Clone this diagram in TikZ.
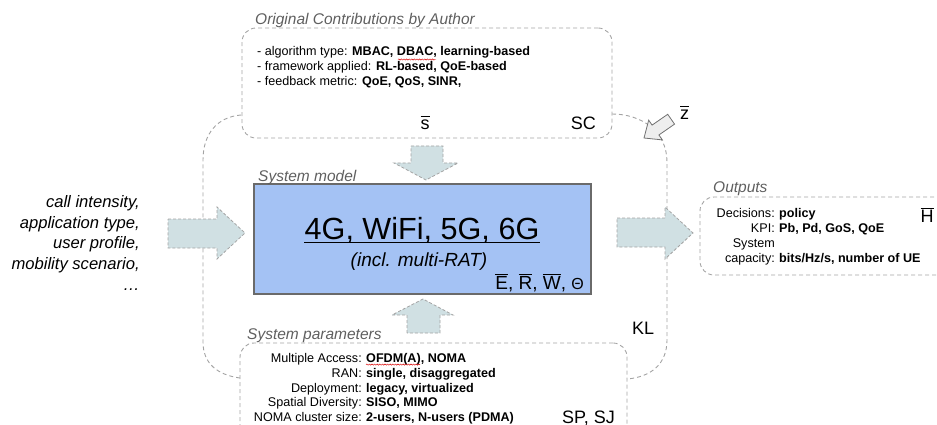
\documentclass[tikz,border=0pt]{standalone}
\usepackage{fontspec}
\setmainfont{Liberation Sans}
\usetikzlibrary{decorations.pathmorphing}

\definecolor{dashgray}{HTML}{A3A3A3}
\definecolor{titlegray}{HTML}{5F5F5F}
\definecolor{modelblue}{HTML}{A4C2F4}
\definecolor{modeledge}{HTML}{6A6A6A}
\definecolor{flowfill}{HTML}{D0E0E3}
\definecolor{zfill}{HTML}{EEEEEE}
\definecolor{zedge}{HTML}{707070}

% letter with a bar at capital height
\newcommand\barred[1]{\ensuremath{\overline{\mbox{#1\vphantom{H}}}}}

\tikzset{
  panel/.style={draw=dashgray, dash pattern=on 4pt off 3pt, line width=0.9pt,
    rounded corners=14pt, inner sep=0pt},
  modelbox/.style={draw=modeledge, fill=modelblue, line width=1.1pt, inner sep=0pt},
  loopline/.style={draw=dashgray, dash pattern=on 4pt off 3pt, line width=0.9pt},
  flow/.style={fill=flowfill, draw=dashgray, dash pattern=on 3pt off 2pt, line width=0.8pt},
  zarrow/.style={fill=zfill, draw=zedge, line width=0.8pt, line join=miter},
  paneltitle/.style={font=\fontsize{15.5}{15.5}\itshape, text=titlegray, inner sep=0pt, anchor=base west},
  txt/.style={font=\fontsize{12.6}{14}\selectfont, inner sep=0pt},
  boldtxt/.style={font=\fontsize{12.6}{14}\bfseries, inner sep=0pt},
  intxt/.style={font=\fontsize{16.6}{21}\itshape, inner sep=0pt, anchor=base east},
  tag/.style={font=\fontsize{18}{18}\selectfont, inner sep=0pt},
  squiggle/.style={draw=red!85!black, line width=0.45pt, decorate,
    decoration={snake, amplitude=0.6pt, segment length=2.6pt}}
}

\begin{document}
\begin{tikzpicture}[x=1pt,y=-1pt]
\useasboundingbox (0,0) rectangle (937,425);
\clip (0,0) rectangle (937,425);

% ---------- panels ----------
\node[panel, minimum width=370pt, minimum height=110pt] (contrib) at (427,83) {};
\node[panel, minimum width=387pt, minimum height=100pt] (params) at (433.5,393) {};
\node[panel, minimum width=262pt, minimum height=78pt] (outs) at (831,236) {};
\node[modelbox, minimum width=337pt, minimum height=110pt] (model) at (422.5,239) {};

% ---------- panel titles ----------
\node[paneltitle] (t-contrib) at (255,25) {Original Contributions by Author};
\node[paneltitle] (t-model) at (258,181) {System model};
\node[paneltitle] (t-outs) at (713,192) {Outputs};
\node[paneltitle] (t-params) at (247,339) {System parameters};

% ---------- feedback loop between the contribution and parameter panels ----------
\coordinate (lA) at (241,115);
\coordinate (lB) at (240,378);
\coordinate (rA) at (612,114);
\coordinate (rB) at (627,379);
\draw[loopline] (lA) .. controls (217,117) and (203,134) .. (203,160)
  -- (203,342) .. controls (203,364) and (218,375) .. (lB);
\draw[loopline] (rA) .. controls (641,114) and (667,131) .. (667,162)
  -- (667,340) .. controls (667,364) and (651,377) .. (rB);

% ---------- block arrows ----------
\draw[flow] (168,219) -- (217,219) -- (217,207) -- (245,233) -- (217,259)
  -- (217,248) -- (168,248) -- cycle;
\draw[flow] (617,218) -- (665,218) -- (665,207) -- (693,233) -- (665,259)
  -- (665,247) -- (617,247) -- cycle;
\draw[flow] (411,146) -- (443,146) -- (443,163) -- (458,163) -- (426,180)
  -- (394,163) -- (411,163) -- cycle;
\draw[flow] (407,333) -- (407,315) -- (392,315) -- (423,299) -- (453,315)
  -- (440,315) -- (440,333) -- cycle;

% z arrow pointing into the loop
\begin{scope}[shift={(644,138)}, rotate=214.7]
  \draw[zarrow] (0,0) -- (-14,-12) -- (-14,-6) -- (-33,-6) -- (-33,6)
    -- (-14,6) -- (-14,12) -- cycle;
\end{scope}

% ---------- contributions ----------
\node[txt, anchor=base west] (c1) at (257,56) {- algorithm type: \textbf{MBAC, DBAC, learning-based}};
\node[txt, anchor=base west] (c2) at (257,71) {- framework applied: \textbf{RL-based, QoE-based}};
\node[txt, anchor=base west] (c3) at (257,86) {- feedback metric: \textbf{QoE, QoS, SINR,}};
\draw[squiggle] (398,59.5) -- (436,59.5);
\node[tag, anchor=base] (sbar) at (425,130) {\barred{s}};
\node[tag, anchor=base east] (sc) at (596,130) {SC};
\node[tag, anchor=base west] (zbar) at (680,120) {\barred{z}};

% ---------- inputs ----------
\foreach \yy/\s [count=\i] in {207/{call intensity,}, 228/{application type,},
    248/{user profile,}, 269/{mobility scenario,}, 290/{…}}
  \node[intxt] (in-\i) at (140,\yy) {\s};

% ---------- system model ----------
\node[font=\fontsize{30.6}{30}\selectfont, inner sep=0pt, anchor=base] (rats) at (422,239) {4G, WiFi, 5G, 6G};
\draw[line width=1.5pt] ([yshift=-3.6pt]rats.base west) -- ([yshift=-3.6pt]rats.base east);
\node[font=\fontsize{19}{19}\itshape, inner sep=0pt, anchor=base] (multirat) at (419,266) {(incl. multi-RAT)};
\node[font=\fontsize{19}{19}\selectfont, inner sep=0pt, anchor=base east] (syms) at (584,289)
  {\barred{E}, \barred{R}, \barred{W}, {\fontsize{16}{16}\selectfont Θ}};

% ---------- outputs ----------
\foreach \yy/\a/\b [count=\i] in {217/{Decisions:}/{policy}, 232/{KPI:}/{Pb, Pd, GoS, QoE},
    247/{System\hspace{4pt}}/{}, 262/{capacity:}/{bits/Hz/s, number of UE}} {
  \node[txt, anchor=base east] (ol-\i) at (775,\yy) {\a};
  \node[boldtxt, anchor=base west] (ov-\i) at (779,\yy) {\b};
}
\node[tag, anchor=base] (hbar) at (927,222) {\barred{H}};

% ---------- system parameters ----------
\foreach \yy/\a/\b [count=\i] in {362/{Multiple Access:}/{OFDM(A), NOMA},
    377/{RAN:}/{single, disaggregated}, 392/{Deployment:}/{legacy, virtualized},
    406/{Spatial Diversity:}/{SISO, MIMO}, 421/{NOMA cluster size:}/{2-users, N-users (PDMA)}} {
  \node[txt, anchor=base east] (pl-\i) at (362,\yy) {\a};
  \node[boldtxt, anchor=base west] (pv-\i) at (366,\yy) {\b};
}
\draw[squiggle] ([yshift=-2.6pt]pv-1.base west) -- ++(54,0);
\node[tag, anchor=base west] (kl) at (632,334) {KL};
\node[tag, anchor=base west] (spsj) at (562,423) {SP, SJ};

\end{tikzpicture}
\end{document}
